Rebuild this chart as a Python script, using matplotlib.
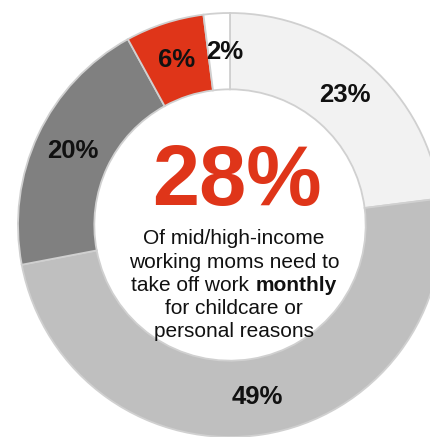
import matplotlib.pyplot as plt

# share of respondents per answer, clockwise from 12 o'clock
shares = [23, 49, 20, 6, 2]
colors = ['#f2f2f2', '#bfbfbf', '#808080', '#df3519', '#ffffff']
headline = '28%'
body_lines = ['Of mid/high-income', 'working moms need to', None,
              'for childcare or', 'personal reasons']
bold_line = ('take off work ', 'monthly')

plt.rcParams['font.family'] = ['Liberation Sans', 'DejaVu Sans']

W, H = 431, 437
fig = plt.figure(figsize=(W / 100, H / 100), dpi=100)
ax = fig.add_axes([0, 0, 1, 1])

# work in pixel units so the ring can run off the right/bottom edges
cx, cy, r = 230, H - 225, 212
wedges, _, pct_texts = ax.pie(
    shares, colors=colors, startangle=90, counterclock=False,
    center=(cx, cy), radius=r,
    autopct=lambda p: f'{p:.0f}%', pctdistance=0.82,
    wedgeprops=dict(width=0.36 * r, edgecolor='#d0d0d0', linewidth=1.3),
    textprops=dict(fontsize=18.5, fontweight='bold', color='#111111'))
# the thin slice's label sits a little to the right so it stays readable
x, y = pct_texts[-1].get_position()
pct_texts[-1].set_position((x + 6, y))

ax.set_xlim(0, W)
ax.set_ylim(0, H)
ax.set_aspect('equal')
ax.axis('off')

ax.text(237, H - 205, headline, fontsize=61, fontweight='bold',
        color='#df3519', ha='center', va='baseline')

tx = 234
baselines = [244, 267.5, 291, 314, 337]
for line, yb in zip(body_lines, baselines):
    if line is not None:
        ax.text(tx, H - yb, line, fontsize=15, color='#111111',
                ha='center', va='baseline')

# mixed regular/bold line: measure both parts, then center the pair
renderer = fig.canvas.get_renderer()
yb = H - baselines[2]
t1 = ax.text(0, yb, bold_line[0], fontsize=15, color='#111111', va='baseline')
t2 = ax.text(0, yb, bold_line[1], fontsize=15, fontweight='bold',
             color='#111111', va='baseline')
w1 = t1.get_window_extent(renderer).width
w2 = t2.get_window_extent(renderer).width
x0 = tx - (w1 + w2) / 2
t1.set_x(x0)
t2.set_x(x0 + w1)

fig.savefig('out.png', dpi=100)
